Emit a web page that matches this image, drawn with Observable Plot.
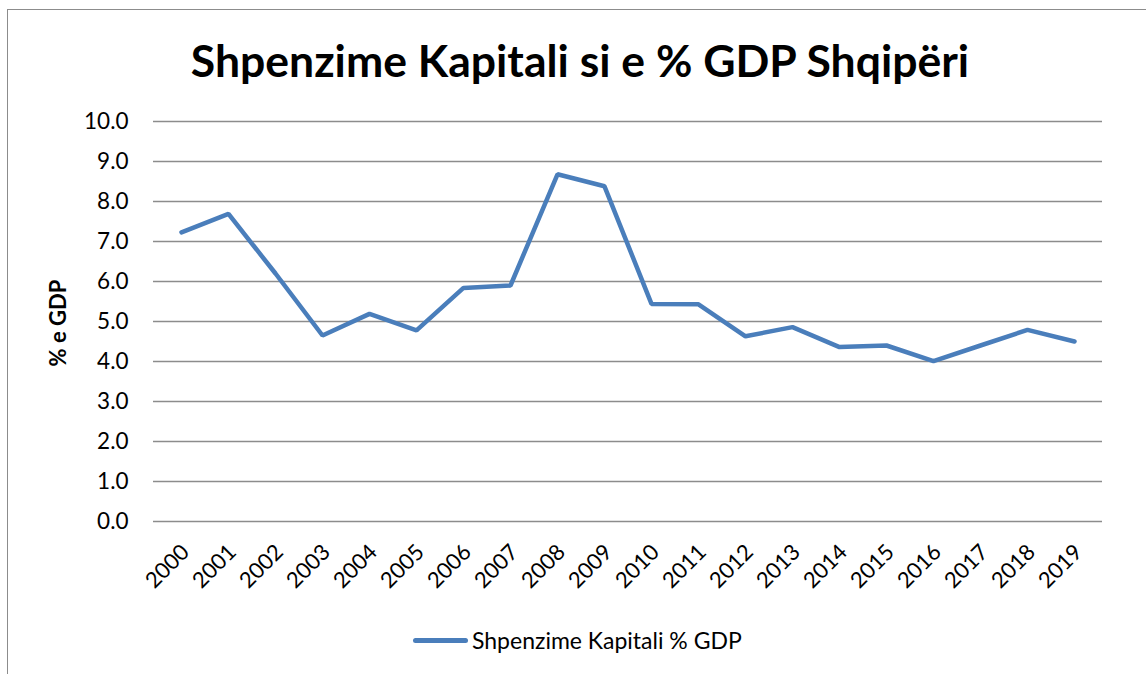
<!DOCTYPE html>
<html>
<head>
<meta charset="utf-8">
<script src="https://cdn.jsdelivr.net/npm/d3@7"></script>
<script src="https://cdn.jsdelivr.net/npm/@observablehq/plot@0.6"></script>
<style>
  html, body { margin: 0; padding: 0; background: #fff; }
  #wrap { position: relative; width: 1146px; height: 674px; overflow: hidden; font-family: Lato, "Open Sans", sans-serif; color: #000; }
  #frame { position: absolute; left: 7px; top: 9px; width: 1200px; height: 700px; border: 1.5px solid #8c8c8c; box-sizing: border-box; }
  #title { position: absolute; left: 0; width: 1160px; top: 32px; text-align: center; font-weight: bold; font-size: 44.5px; line-height: 56px; }
  #ylabel { position: absolute; left: 57px; top: 323px; transform: translate(-50%, -50%) rotate(-90deg); font-weight: bold; font-size: 22px; white-space: nowrap; }
  #chart { position: absolute; left: 0; top: 100px; }
  #legend { position: absolute; left: 413px; top: 626px; display: flex; align-items: center; font-size: 23px; white-space: nowrap; }
  #legend .sw { width: 55px; height: 5px; background: #4a7ebb; border-radius: 3px; margin-right: 4px; }
</style>
</head>
<body>
<div id="wrap">
  <div id="frame"></div>
  <div id="title">Shpenzime Kapitali si e % GDP Shqipëri</div>
  <div id="ylabel">% e GDP</div>
  <div id="chart"></div>
  <div id="legend"><div class="sw"></div><span>Shpenzime Kapitali % GDP</span></div>
</div>
<script>
const years = ["2000","2001","2002","2003","2004","2005","2006","2007","2008","2009",
               "2010","2011","2012","2013","2014","2015","2016","2017","2018","2019"];
const values = [7.23, 7.69, 6.2, 4.65, 5.19, 4.78, 5.84, 5.9, 8.68, 8.38,
                5.44, 5.43, 4.63, 4.86, 4.36, 4.4, 4.01, 4.4, 4.79, 4.5];
const yTicks = [0,1,2,3,4,5,6,7,8,9,10];
const seriesName = "Shpenzime Kapitali % GDP";

const data = years.map((y, i) => ({year: y, value: values[i], series: seriesName}));

const chart = Plot.plot({
  width: 1146,
  height: 480,
  marginLeft: 153,
  marginRight: 44,
  marginTop: 21,
  marginBottom: 59,
  style: { fontFamily: "Lato, 'Open Sans', sans-serif", fontSize: "22px", color: "#000", background: "transparent", overflow: "visible" },
  x: { type: "point", domain: years, padding: 0.5 },
  y: { domain: [0, 10] },
  marks: [
    Plot.ruleY(yTicks, { stroke: "#8c8c8c", strokeWidth: 1.5 }),
    Plot.axisY({ ticks: yTicks, tickFormat: d => d.toFixed(1), tickSize: 0, tickPadding: 25, label: null, fontSize: 22.5 }),
    Plot.axisX({ tickSize: 0, tickRotate: -45, tickPadding: 27, dx: 4, label: null, fontSize: 22 }),
    Plot.line(data, { x: "year", y: "value", stroke: "#4a7ebb", strokeWidth: 4.5, strokeLinejoin: "miter", strokeLinecap: "round" })
  ]
});
document.getElementById("chart").appendChild(chart);
</script>
</body>
</html>
